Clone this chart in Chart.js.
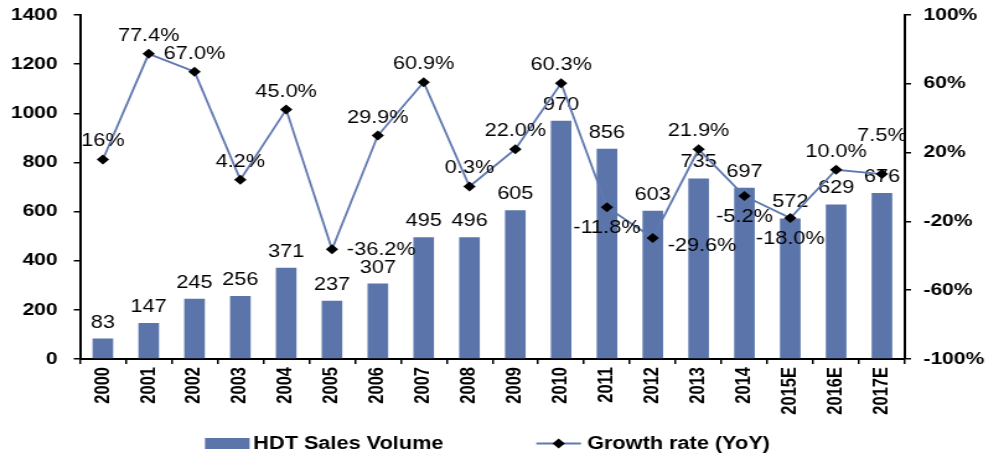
<!DOCTYPE html>
<html>
<head>
<meta charset="utf-8">
<script src="https://cdn.jsdelivr.net/npm/chart.js@4/dist/chart.umd.min.js"></script>
<style>
  html, body { margin: 0; padding: 0; background: #fff; overflow: hidden; }
  /* the reference picture is stretched sideways, so the chart is drawn narrower and widened */
  #wrap { width: 806px; height: 457px; transform: scaleX(1.2395); transform-origin: 0 0; }
</style>
</head>
<body>
<div id="wrap"><canvas id="chart" width="806" height="457"></canvas></div>
<script>
// data
const years = ['2000', '2001', '2002', '2003', '2004', '2005', '2006', '2007', '2008',
  '2009', '2010', '2011', '2012', '2013', '2014', '2015E', '2016E', '2017E'];
const salesVolume = [83, 147, 245, 256, 371, 237, 307, 495, 496, 605, 970, 856, 603, 735, 697, 572, 629, 676];
const growthRate = [16, 77.4, 67.0, 4.2, 45.0, -36.2, 29.9, 60.9, 0.3, 22.0, 60.3, -11.8, -29.6, 21.9, -5.2, -18.0, 10.0, 7.5];
const growthLabels = ['16%', '77.4%', '67.0%', '4.2%', '45.0%', '-36.2%', '29.9%', '60.9%', '0.3%',
  '22.0%', '60.3%', '-11.8%', '-29.6%', '21.9%', '-5.2%', '-18.0%', '10.0%', '7.5%'];
// where each growth label sits relative to its point
const growthLabelPos = ['top', 'top', 'top', 'top', 'top', 'right', 'top', 'top', 'top',
  'top', 'top', 'bottom', 'rightBelow', 'top', 'bottom', 'bottom', 'top', 'topHigh'];

const FONT = '"Liberation Sans", Arial, sans-serif';
const BAR_COLOR = '#5b75ab';
const LINE_COLOR = '#6079b0';

const labelPlugin = {
  id: 'valueLabels',
  beforeDatasetsDraw(chart) {
    const ctx = chart.ctx;
    const bars = chart.getDatasetMeta(0).data;
    ctx.save();
    ctx.font = '17.5px ' + FONT;
    ctx.fillStyle = '#000';
    ctx.textAlign = 'center';
    ctx.textBaseline = 'alphabetic';
    bars.forEach((b, i) => {
      ctx.fillText(String(salesVolume[i]), b.x, b.y - 11);
    });
    ctx.restore();
  },
  afterDatasetsDraw(chart) {
    const ctx = chart.ctx;
    const pts = chart.getDatasetMeta(1).data;
    ctx.save();
    ctx.font = '17.5px ' + FONT;
    ctx.fillStyle = '#000';
    pts.forEach((p, i) => {
      const pos = growthLabelPos[i];
      const txt = growthLabels[i];
      if (pos === 'top' || pos === 'topHigh') {
        ctx.textAlign = 'center';
        ctx.textBaseline = 'alphabetic';
        ctx.fillText(txt, p.x, p.y - (pos === 'top' ? 13 : 33));
      } else if (pos === 'bottom') {
        ctx.textAlign = 'center';
        ctx.textBaseline = 'top';
        ctx.fillText(txt, p.x, p.y + 12);
      } else {
        ctx.textAlign = 'left';
        ctx.textBaseline = 'middle';
        ctx.fillText(txt, p.x + 12, p.y + (pos === 'right' ? 1 : 8));
      }
    });
    ctx.restore();
  },
  afterDraw(chart) {
    // legend under the axis labels
    const ctx = chart.ctx;
    const area = chart.chartArea;
    ctx.save();
    ctx.font = 'bold 17.5px ' + FONT;
    const t1 = 'HDT Sales Volume';
    const t2 = 'Growth rate (YoY)';
    const w1 = ctx.measureText(t1).width;
    const w2 = ctx.measureText(t2).width;
    const total = 36 + 3 + w1 + 75 + 36 + 5 + w2;
    let x = (area.left + area.right) / 2 - 4 - total / 2;
    const y = 443.5;
    ctx.fillStyle = BAR_COLOR;
    ctx.fillRect(x, y - 5.5, 36, 11);
    x += 39;
    ctx.fillStyle = '#000';
    ctx.textAlign = 'left';
    ctx.textBaseline = 'middle';
    ctx.fillText(t1, x, y + 1);
    x += w1 + 75;
    ctx.strokeStyle = LINE_COLOR;
    ctx.lineWidth = 2;
    ctx.beginPath();
    ctx.moveTo(x, y);
    ctx.lineTo(x + 36, y);
    ctx.stroke();
    ctx.fillStyle = '#000';
    ctx.beginPath();
    ctx.moveTo(x + 18, y - 5);
    ctx.lineTo(x + 23, y);
    ctx.lineTo(x + 18, y + 5);
    ctx.lineTo(x + 13, y);
    ctx.closePath();
    ctx.fill();
    x += 41;
    ctx.fillText(t2, x, y + 1);
    ctx.restore();
  }
};

// keep the plot top at the layout padding instead of label overflow + tick padding
function trimVerticalPadding(scale) {
  scale.paddingTop = 8;
  scale.paddingBottom = 8;
}

const ctx = document.getElementById('chart').getContext('2d');
new Chart(ctx, {
  data: {
    labels: years,
    datasets: [{
      type: 'bar',
      label: 'HDT Sales Volume',
      data: salesVolume,
      backgroundColor: BAR_COLOR,
      categoryPercentage: 1,
      barPercentage: 0.45,
      yAxisID: 'y',
      order: 2
    }, {
      type: 'line',
      label: 'Growth rate (YoY)',
      data: growthRate,
      borderColor: LINE_COLOR,
      borderWidth: 1.8,
      pointStyle: 'rectRot',
      pointRadius: 5,
      pointBackgroundColor: '#000',
      pointBorderColor: '#000',
      pointBorderWidth: 0,
      tension: 0,
      yAxisID: 'y1',
      order: 1
    }]
  },
  options: {
    responsive: false,
    animation: false,
    layout: { padding: { top: 15, left: 0, right: 0, bottom: 0 } },
    plugins: { legend: { display: false }, tooltip: { enabled: false } },
    scales: {
      x: {
        offset: true,
        grid: { offset: true, drawOnChartArea: false, drawTicks: true, tickLength: 5, color: '#000', lineWidth: 1.5 },
        border: { color: '#000', width: 2 },
        ticks: {
          color: '#000', font: { family: FONT, size: 16.5, weight: 'bold' },
          minRotation: 90, maxRotation: 90, padding: 3, autoSkip: false
        },
        afterFit(scale) { scale.height = 98; }
      },
      y: {
        position: 'left',
        min: 0, max: 1400,
        grid: { drawOnChartArea: false, drawTicks: true, tickLength: 5, color: '#000', lineWidth: 1.5 },
        border: { color: '#000', width: 2 },
        ticks: {
          stepSize: 200, color: '#000', padding: 13,
          font: { family: FONT, size: 17, weight: 'bold' },
          callback: v => String(v)
        },
        afterFit(scale) { scale.width = 64.5; trimVerticalPadding(scale); }
      },
      y1: {
        position: 'right',
        min: -100, max: 100,
        grid: { drawOnChartArea: false, drawTicks: true, tickLength: 5, color: '#000', lineWidth: 1.5 },
        border: { color: '#000', width: 2 },
        ticks: {
          stepSize: 40, color: '#000', padding: 10,
          font: { family: FONT, size: 17, weight: 'bold' },
          callback: v => v + '%'
        },
        afterFit(scale) { scale.width = 76; trimVerticalPadding(scale); }
      }
    }
  },
  plugins: [labelPlugin]
});
</script>
</body>
</html>
